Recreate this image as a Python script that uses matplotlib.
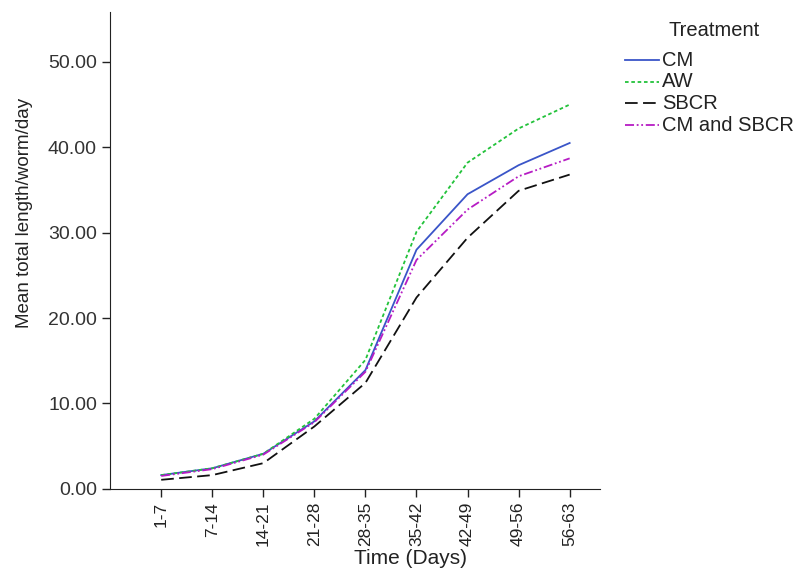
import matplotlib.pyplot as plt
from matplotlib.lines import Line2D

plt.rcParams['font.family'] = ['Liberation Sans', 'DejaVu Sans']

# weekly periods
periods = ['1-7', '7-14', '14-21', '21-28', '28-35', '35-42', '42-49', '49-56', '56-63']

cm = [1.6, 2.4, 4.1, 7.9, 13.9, 28.0, 34.5, 37.9, 40.5]
aw = [1.6, 2.4, 4.1, 8.2, 15.1, 30.1, 38.2, 42.2, 45.0]
sbcr = [1.05, 1.6, 3.0, 7.3, 12.4, 22.4, 29.4, 34.9, 36.8]
cm_sbcr = [1.5, 2.3, 4.0, 7.8, 13.7, 26.8, 32.7, 36.6, 38.7]

names = ['CM', 'AW', 'SBCR', 'CM and SBCR']
series = [cm, aw, sbcr, cm_sbcr]
styles = [dict(color='#3a55c8', ls='-'),
          dict(color='#22c23a', ls=(0, (2, 1.5))),
          dict(color='#111111', ls=(0, (7, 3))),
          dict(color='#b61cc4', ls=(0, (5, 1.5, 1, 1.5, 1, 1.5)))]

fig = plt.figure(figsize=(8.04, 5.69), dpi=100)
ax = fig.add_axes([0.137, 0.141, 0.609, 0.838])

x = range(len(periods))
for name, vals, st in zip(names, series, styles):
    ax.plot(x, vals, lw=1.3, label=name, **st)

ax.set_xlim(-1.0, 8.59)
ax.set_ylim(0, 55.85)
ax.set_yticks([0, 10, 20, 30, 40, 50])
ax.set_yticklabels(['%.2f' % v for v in [0, 10, 20, 30, 40, 50]], fontsize=14, color='#333333')
ax.set_xticks(list(x))
ax.set_xticklabels(periods, rotation=90, fontsize=12.5, color='#222222')
ax.tick_params(direction='out', length=6, width=1, color='#222222')

for s in ['top', 'right']:
    ax.spines[s].set_visible(False)
ax.spines['left'].set_color('#222222')
ax.spines['bottom'].set_color('#222222')

fig.text(0.511, 0.019, 'Time (Days)', fontsize=15, ha='center', va='center', color='#222222')
fig.text(0.030, 0.626, 'Mean total length/worm/day', rotation=90, fontsize=13.5,
         ha='center', va='center', color='#222222')

# legend drawn by hand to match the spacing
W, H = 804.0, 569.0
fig.text(714 / W, 1 - 30 / H, 'Treatment', fontsize=14.5, ha='center', va='center',
         color='#222222')
for i, (name, st) in enumerate(zip(names, styles)):
    yy = 1 - (60 + 21.7 * i) / H
    fig.add_artist(Line2D([625 / W, 659 / W], [yy, yy], transform=fig.transFigure,
                          lw=1.3, **st))
    fig.text(662 / W, yy, name, fontsize=14.5, ha='left', va='center', color='#222222')

fig.savefig('out.png', dpi=100)
